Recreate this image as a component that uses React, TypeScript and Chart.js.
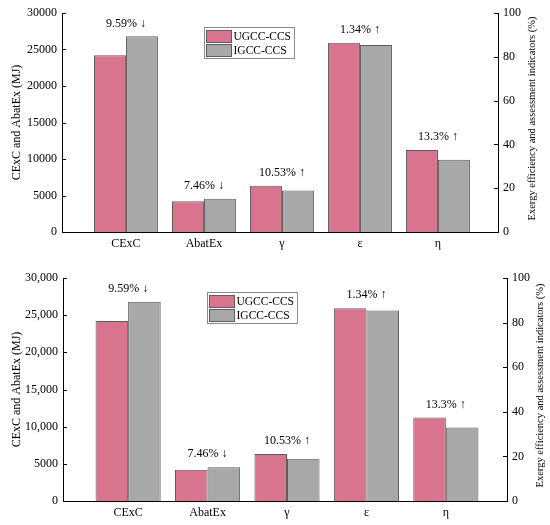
import { useEffect, useRef } from 'react'
import { Chart, registerables } from 'chart.js'

Chart.register(...registerables)

const FONT = '"Liberation Serif", "Times New Roman", serif'

const categories = ['CExC', 'AbatEx', 'γ', 'ε', 'η']
const ugccValues = [24200, 4200, 21.1, 86.4, 37.4]
const igccValues = [26800, 4550, 19.0, 85.4, 33.0]
// CExC and AbatEx are read on the left (MJ) axis, the rest on the right (%) axis
const axisIds = ['y', 'y', 'y1', 'y1', 'y1']
const changeLabels = ['9.59% ↓', '7.46% ↓', '10.53% ↑', '1.34% ↑', '13.3% ↑']
const seriesNames = ['UGCC-CCS', 'IGCC-CCS']
const seriesColors = ['#d9748f', '#a8a8a8']
const leftTickLabelsPlain = ['0', '5000', '10000', '15000', '20000', '25000', '30000']
const leftTickLabelsComma = ['0', '5000', '10,000', '15,000', '20,000', '25,000', '30,000']
const rightTickLabels = ['0', '20', '40', '60', '80', '100']

const leftTitle = 'CExC and AbatEx (MJ)'
const rightTitle = 'Exergy efficiency and assessment indicators (%)'

interface PanelLayout {
  height: number
  left: number
  right: number
  top: number
  xHeight: number
  rightTitleGap: number
}

function buildDatasets() {
  const seriesValues = [ugccValues, igccValues]
  const out: any[] = []
  for (const axis of ['y', 'y1']) {
    seriesValues.forEach((vals, s) => {
      out.push({
        label: seriesNames[s],
        data: vals.map((v, i) => ({ x: i, y: axisIds[i] === axis ? v : null })),
        yAxisID: axis,
        backgroundColor: seriesColors[s],
        borderColor: '#5c5c5c',
        borderWidth: 1,
        borderSkipped: 'bottom',
        skipNull: true,
        categoryPercentage: 0.82,
        barPercentage: 1,
      })
    })
  }
  return out
}

function makeOverlay(layout: PanelLayout) {
  return {
    id: 'overlay',
    afterDatasetsDraw(chart: any) {
      const { ctx, chartArea, scales } = chart
      ctx.save()

      // tick marks point into the plot on both value axes
      ctx.strokeStyle = '#000'
      ctx.lineWidth = 1
      ctx.beginPath()
      for (const t of scales.y.ticks) {
        const py = Math.round(scales.y.getPixelForValue(t.value)) + 0.5
        ctx.moveTo(chartArea.left, py)
        ctx.lineTo(chartArea.left + 4, py)
      }
      for (const t of scales.y1.ticks) {
        const py = Math.round(scales.y1.getPixelForValue(t.value)) + 0.5
        ctx.moveTo(chartArea.right, py)
        ctx.lineTo(chartArea.right - 4, py)
      }
      ctx.stroke()

      // change labels above each pair
      ctx.fillStyle = '#000'
      ctx.font = `12px ${FONT}`
      ctx.textAlign = 'center'
      ctx.textBaseline = 'middle'
      categories.forEach((_, i) => {
        const sc = scales[axisIds[i]]
        const top = sc.getPixelForValue(Math.max(ugccValues[i], igccValues[i]))
        ctx.fillText(changeLabels[i], scales.x.getPixelForValue(i), top - 13)
      })

      // boxed legend
      const lx = Math.round(chartArea.left + (chartArea.right - chartArea.left) * 0.325) + 0.5
      const ly = Math.round(chartArea.top + 14) + 0.5
      ctx.strokeStyle = '#8a8a8a'
      ctx.strokeRect(lx, ly, 90, 31)
      ctx.font = `11.5px ${FONT}`
      ctx.textAlign = 'left'
      seriesNames.forEach((name, s) => {
        const sy = ly + 3 + s * 14
        ctx.fillStyle = seriesColors[s]
        ctx.fillRect(lx + 2, sy, 25, 12)
        ctx.strokeStyle = '#5c5c5c'
        ctx.strokeRect(lx + 2, sy, 25, 12)
        ctx.fillStyle = '#000'
        ctx.fillText(name, lx + 29, sy + 6.5)
      })

      // axis titles, both reading bottom to top
      const midY = (chartArea.top + chartArea.bottom) / 2
      ctx.font = `12px ${FONT}`
      ctx.textAlign = 'center'
      ctx.save()
      ctx.translate(17, midY)
      ctx.rotate(-Math.PI / 2)
      ctx.fillText(leftTitle, 0, 0)
      ctx.restore()
      ctx.font = `10.5px ${FONT}`
      ctx.save()
      ctx.translate(chartArea.right + layout.rightTitleGap, midY - 4)
      ctx.rotate(-Math.PI / 2)
      ctx.fillText(rightTitle, 0, 0)
      ctx.restore()

      ctx.restore()
    },
  }
}

function BarPanel({ tickLabels, layout }: { tickLabels: string[]; layout: PanelLayout }) {
  const chartRef = useRef<HTMLCanvasElement | null>(null)
  const chartInstance = useRef<Chart | null>(null)

  useEffect(() => {
    if (!chartRef.current) return
    if (chartInstance.current) chartInstance.current.destroy()

    const tickFont = { family: FONT, size: 12 }
    const noGrid = { display: false, drawTicks: false }
    chartInstance.current = new Chart(chartRef.current, {
      type: 'bar',
      data: { datasets: buildDatasets() },
      plugins: [makeOverlay(layout)],
      options: {
        responsive: true,
        maintainAspectRatio: false,
        animation: false,
        layout: { padding: { top: layout.top, left: 0, right: 0, bottom: 0 } },
        plugins: {
          legend: { display: false },
          tooltip: { enabled: false },
        },
        scales: {
          x: {
            type: 'linear',
            offset: false,
            min: -0.82,
            max: 4.77,
            grid: { ...noGrid, offset: false },
            border: { display: true, color: '#000', width: 1 },
            afterBuildTicks: (scale: any) => {
              scale.ticks = categories.map((_, i) => ({ value: i }))
            },
            afterFit: (scale: any) => {
              scale.height = layout.xHeight
            },
            ticks: {
              color: '#000',
              font: tickFont,
              padding: 5,
              maxRotation: 0,
              autoSkip: false,
              callback: (v: any) => categories[v as number],
            },
          },
          y: {
            position: 'left',
            min: 0,
            max: 30000,
            stacked: false,
            grid: noGrid,
            border: { display: true, color: '#000', width: 1 },
            afterFit: (scale: any) => {
              scale.width = layout.left
            },
            ticks: {
              stepSize: 5000,
              color: '#000',
              font: tickFont,
              padding: 5,
              callback: (_v: any, i: number) => tickLabels[i],
            },
          },
          y1: {
            position: 'right',
            min: 0,
            max: 100,
            stacked: false,
            grid: noGrid,
            border: { display: true, color: '#000', width: 1 },
            afterFit: (scale: any) => {
              scale.width = 550 - layout.right
            },
            ticks: {
              stepSize: 20,
              color: '#000',
              font: tickFont,
              padding: 5,
              callback: (_v: any, i: number) => rightTickLabels[i],
            },
          },
        },
      } as any,
    })

    return () => {
      if (chartInstance.current) {
        chartInstance.current.destroy()
        chartInstance.current = null
      }
    }
  }, [tickLabels, layout])

  return (
    <div style={{ position: 'relative', width: 550, height: layout.height }}>
      <canvas ref={chartRef}></canvas>
    </div>
  )
}

const topLayout: PanelLayout = { height: 262, left: 62, right: 498, top: 13, xHeight: 30, rightTitleGap: 34 }
const bottomLayout: PanelLayout = { height: 263, left: 63, right: 507, top: 16, xHeight: 24, rightTitleGap: 33 }

export default function App() {
  useEffect(() => {
    document.body.style.margin = '0'
  }, [])

  return (
    <div style={{ width: 550, height: 525, background: '#fff' }}>
      <BarPanel tickLabels={leftTickLabelsPlain} layout={topLayout} />
      <BarPanel tickLabels={leftTickLabelsComma} layout={bottomLayout} />
    </div>
  )
}
